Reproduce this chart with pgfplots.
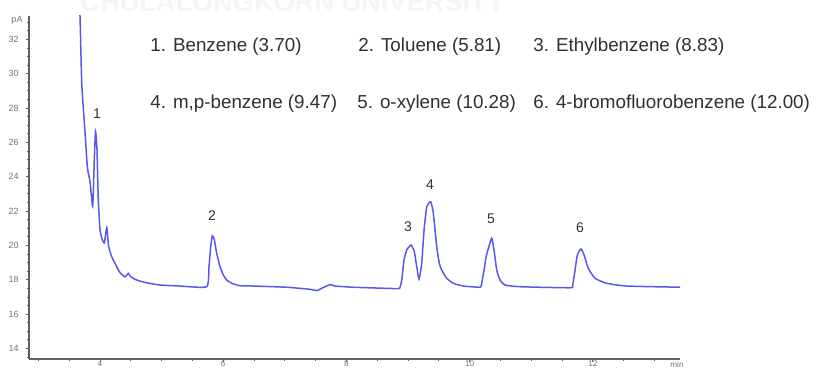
\documentclass[border=0pt]{standalone}
\usepackage{fontspec}
\setmainfont{Liberation Sans}
\usepackage{pgfplots}
\pgfplotsset{compat=1.18}
\definecolor{trace}{RGB}{88,88,240}
\definecolor{ink}{RGB}{48,48,48}
\definecolor{axisgray}{RGB}{95,95,95}

\begin{document}
\begin{tikzpicture}
\useasboundingbox (0,0) rectangle (415pt,184.5pt);
% faint institutional watermark along the top edge
\node[anchor=base west, inner sep=0, font=\fontsize{13.6}{14}\selectfont\bfseries, text=black!4]
  at (40pt,178.5pt) {CHULALONGKORN UNIVERSITY};
\begin{axis}[
  at={(14.5pt,5pt)}, anchor=south west,
  scale only axis, width=325.5pt, height=171.5pt,
  xmin=2.847, xmax=13.415, ymin=13.38, ymax=33.36,
  axis lines=left,
  axis line style={-, axisgray, line width=0.6pt},
  xtick={4,6,8,10,12},
  minor xtick={3,3.5,4.5,5,5.5,6.5,7,7.5,8.5,9,9.5,10.5,11,11.5,12.5,13},
  ytick={14,16,...,32},
  minor ytick={13.5,14,...,33},
  tick align=outside,
  major tick length=1.6pt, minor tick length=1.0pt,
  tick style={axisgray, line width=0.4pt},
  every minor tick/.style={axisgray, line width=0.35pt},
  /pgf/number format/assume math mode=true,
  ticklabel style={font=\fontsize{4.5}{5}\selectfont, text=black!55},
  xticklabel style={font=\fontsize{4.1}{5}\selectfont, inner sep=0pt, yshift=0.8pt},
]
\addplot[trace, line width=0.75pt, smooth, tension=0.3] table {
x y
3.659 33.71
3.675 33.36
3.703 29.45
3.757 26.54
3.794 24.58
3.810 24.20
3.838 23.71
3.881 22.29
3.907 24.97
3.925 26.62
3.935 26.40
3.951 25.55
3.972 22.64
4.000 20.89
4.028 20.43
4.070 20.14
4.109 21.03
4.141 19.92
4.190 19.34
4.271 18.76
4.325 18.41
4.406 18.17
4.459 18.37
4.503 18.16
4.596 17.98
4.731 17.84
4.974 17.69
5.299 17.63
5.732 17.59
5.769 18.76
5.797 19.92
5.823 20.56
5.856 20.31
5.894 19.54
5.948 18.76
6.002 18.27
6.057 17.98
6.138 17.79
6.273 17.65
6.489 17.63
7.031 17.56
7.409 17.44
7.518 17.36
7.599 17.50
7.734 17.71
7.815 17.63
8.112 17.56
8.817 17.48
8.870 17.56
8.898 17.98
8.935 19.15
8.979 19.73
9.049 20.02
9.102 19.63
9.141 18.76
9.179 18.04
9.222 18.95
9.260 20.89
9.304 22.25
9.368 22.54
9.411 21.87
9.466 19.92
9.508 18.95
9.547 18.56
9.628 18.08
9.735 17.79
9.898 17.63
10.169 17.56
10.196 17.79
10.234 18.56
10.266 19.30
10.304 19.83
10.359 20.41
10.396 19.73
10.440 18.56
10.494 17.98
10.575 17.69
10.818 17.59
11.630 17.53
11.673 17.69
11.711 18.56
11.749 19.44
11.808 19.79
11.857 19.44
11.927 18.66
12.036 18.08
12.226 17.79
12.550 17.63
13.416 17.56
};
% peak numbers
\begin{scope}[every node/.style={font=\fontsize{7}{8}\selectfont, text=ink, inner sep=0}]
\node at (axis cs:3.951,27.65) {1};
\node at (axis cs:5.818,21.72) {2};
\node at (axis cs:9.000,21.07) {3};
\node at (axis cs:9.357,23.52) {4};
\node at (axis cs:10.347,21.54) {5};
\node at (axis cs:11.792,21.01) {6};
\end{scope}
\end{axis}
% unit labels
\node[font=\fontsize{4.5}{5}\selectfont, text=black!55, inner sep=0] at (8.5pt,174.5pt) {pA};
\node[font=\fontsize{4.1}{5}\selectfont, text=black!55, inner sep=0] at (338.5pt,2.2pt) {min};
% compound key
\begin{scope}[every node/.style={anchor=west, inner sep=0, font=\fontsize{9.4}{11}\selectfont, text=ink}]
\node at (75pt,161pt) {1. Benzene (3.70)};
\node at (179pt,161pt) {2. Toluene (5.81)};
\node at (266.5pt,161pt) {3. Ethylbenzene (8.83)};
\node at (75pt,132.5pt) {4. m,p-benzene (9.47)};
\node at (178.5pt,132.5pt) {5. o-xylene (10.28)};
\node at (266.5pt,132.5pt) {6. 4-bromofluorobenzene (12.00)};
\end{scope}
\end{tikzpicture}
\end{document}
